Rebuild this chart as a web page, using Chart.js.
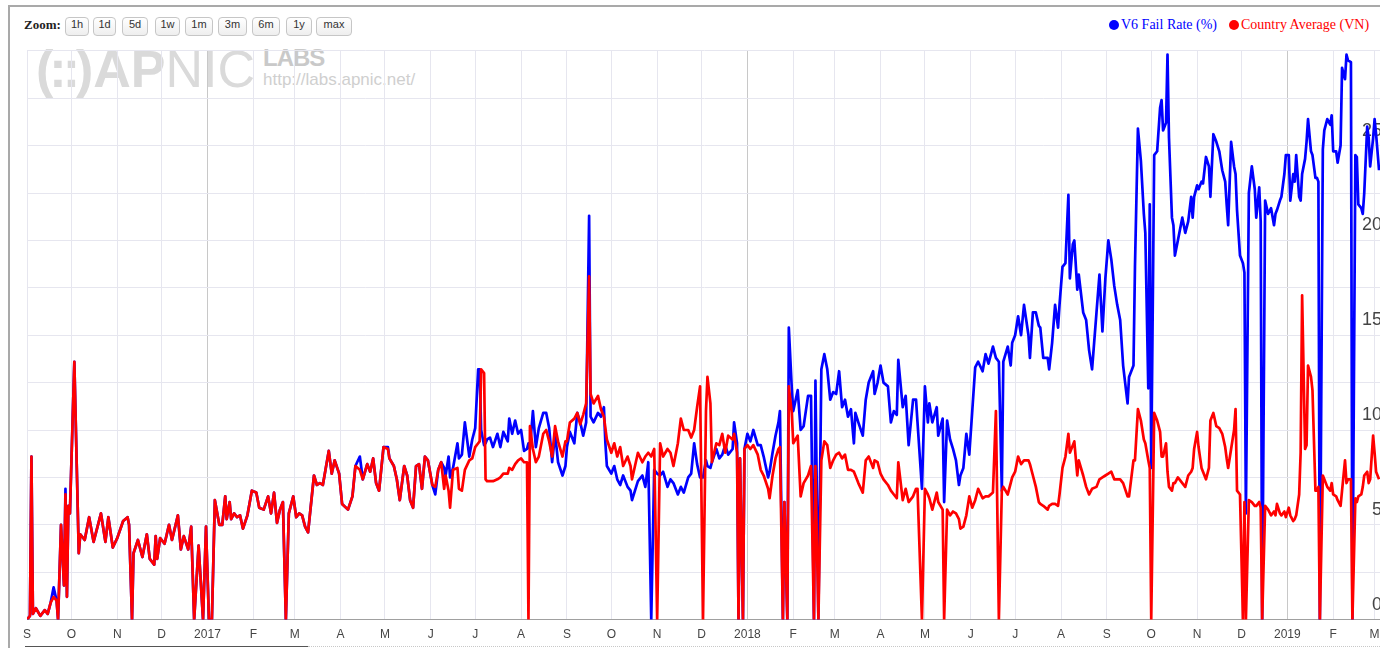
<!DOCTYPE html>
<html>
<head>
<meta charset="utf-8">
<script src="https://cdn.jsdelivr.net/npm/chart.js@4.4.1/dist/chart.umd.min.js"></script>
<style>
  body { margin: 0; width: 1380px; height: 648px; overflow: hidden; position: relative; background: #fff; }
  #frame { position: absolute; left: 8px; top: 5px; width: 1400px; height: 700px;
           border-top: 2px solid #a9a9a9; border-left: 2px solid #a9a9a9; }
  .wm { position: absolute; white-space: nowrap; font-family: "Liberation Sans", Arial, sans-serif; }
  #chart { position: absolute; left: 0; top: 40px; }
  #zoomlbl { position: absolute; left: 24px; top: 17px; font: bold 13px "Liberation Serif", "Times New Roman", serif; color: #222; }
  .btn { position: absolute; top: 17px; height: 19px; line-height: 17px; text-align: center;
         border: 1px solid #c6c6c6; border-radius: 4px; background: linear-gradient(#ffffff, #eeeeee);
         font: 11px "Liberation Sans", Arial, sans-serif; color: #333; box-sizing: border-box; }
  .leg { position: absolute; top: 17px; font: 14px "Liberation Serif", "Times New Roman", serif; white-space: nowrap; }
  .dot { display: inline-block; width: 10px; height: 10px; border-radius: 50%; margin-right: 2px; vertical-align: -1px; }
  #sel { position: absolute; left: 25px; top: 646px; width: 283px; height: 1px; background: #555; }
  #selrest { position: absolute; left: 308px; top: 646px; width: 1080px; height: 0; border-top: 1px dotted #c8c8c8; }
</style>
</head>
<body>
<div id="frame"></div>

<div class="wm" style="left:36px; top:43px; font-size:52px; line-height:52px; color:#dadada;">
  <span style="font-weight:bold; letter-spacing:-4px;">(::)</span><span style="font-weight:bold; margin-left:4px;">AP</span><span>NIC</span>
</div>
<div class="wm" style="left:263px; top:46px; font-size:24px; line-height:24px; font-weight:bold; letter-spacing:-1px; color:#c9c9c9;">LABS</div>
<div class="wm" style="left:263px; top:71px; font-size:17px; line-height:17px; color:#cfcfcf;">http://labs.apnic.net/</div>

<canvas id="chart" width="1400" height="618"></canvas>

<div id="zoomlbl">Zoom:</div>
<div class="btn" style="left:65px; width:24px;">1h</div>
<div class="btn" style="left:93px; width:23px;">1d</div>
<div class="btn" style="left:122px; width:26px;">5d</div>
<div class="btn" style="left:155px; width:25px;">1w</div>
<div class="btn" style="left:185px; width:28px;">1m</div>
<div class="btn" style="left:218px; width:29px;">3m</div>
<div class="btn" style="left:252px; width:28px;">6m</div>
<div class="btn" style="left:286px; width:26px;">1y</div>
<div class="btn" style="left:316px; width:36px;">max</div>

<div class="leg" style="left:1109px; color:#0000ff;"><span class="dot" style="background:#0000ff"></span>V6 Fail Rate (%)</div>
<div class="leg" style="left:1229px; color:#ff0000;"><span class="dot" style="background:#ff0000"></span>Country Average (VN)</div>

<div id="sel"></div>
<div id="selrest"></div>

<script>
// days since 1 Sep 2016
const days = [
  0,2,3,4,6,9,12,14,16,18,
  20,21,23,25,26,27,28,29,32,35,
  36,39,42,45,48,50,53,55,58,61,
  65,68,69,71,72,75,78,81,83,86,
  87,88,90,93,96,98,102,104,106,109,
  111,113,116,119,121,123,125,127,130,132,
  134,135,137,138,140,142,144,146,149,152,
  155,157,160,163,165,167,169,171,173,175,
  177,180,182,184,186,188,190,194,196,198,
  200,204,206,208,211,213,217,220,222,225,
  227,230,232,234,236,238,241,244,245,248,
  250,252,255,257,259,261,263,265,267,269,
  271,274,276,278,280,282,283,285,286,288,
  291,292,294,296,299,301,303,305,306,307,
  309,310,311,313,315,318,320,322,325,326,
  328,330,332,334,336,338,339,340,342,344,
  346,349,351,353,355,357,359,362,364,365,
  367,370,372,374,376,378,380,381,383,386,
  388,390,391,392,395,397,399,401,403,406,
  408,409,411,413,416,418,420,422,424,426,
  428,430,433,435,437,440,442,444,447,449,
  451,453,455,457,459,460,462,463,466,468,
  470,472,474,477,478,480,481,482,484,485,
  487,489,491,494,496,498,501,502,504,506,
  508,509,511,512,514,515,517,518,521,523,
  525,528,530,532,533,535,537,539,541,543,
  545,547,549,551,553,555,557,559,560,562,
  565,567,569,572,573,575,577,579,582,584,
  586,588,589,592,594,596,599,601,602,605,
  607,609,610,612,615,616,619,620,622,624,
  626,628,630,631,633,635,637,639,641,643,
  646,648,650,653,655,657,659,660,663,665,
  666,668,670,672,674,677,678,680,682,684,
  685,687,690,691,693,695,697,698,700,702,
  704,705,707,708,710,711,714,716,718,720,
  723,725,727,729,731,733,735,737,739,741,
  744,745,748,749,751,753,755,756,758,759,
  760,762,764,766,767,768,770,771,772,774,
  775,776,778,781,783,785,787,788,789,791,
  792,794,795,797,799,800,802,804,806,808,
  810,811,812,814,816,817,818,820,822,823,
  824,826,828,830,831,833,834,835,837,839,
  841,843,844,845,847,848,850,851,853,854,
  856,857,858,860,861,862,864,865,866,868,
  869,871,872,873,874,876,877,879,881,882,
  883,885,886,888,889,891,892,893,895,896,
  898,899,900,902,903,904,906,907,908,910,
  911,912,914
];

const v6Fail = [
  0,0.2,8.6,0.3,0.6,0.2,0.5,0.3,0.9,1.7,
  1.0,0,5.0,1.8,6.9,1.2,6.0,5.6,13.6,3.5,
  4.5,4.2,5.4,4.1,5.0,5.6,4.1,5.4,3.8,4.3,
  5.2,5.4,5.0,0,3.5,4.2,3.3,4.5,3.2,2.9,
  4.4,3.2,4.3,4.0,5.0,4.2,5.5,3.7,4.4,3.7,
  4.9,0,3.9,0,4.9,0,0,6.3,5.0,5.0,
  6.5,5.3,6.2,5.3,5.6,5.4,5.5,4.8,5.5,6.8,
  6.7,5.9,5.8,6.5,5.6,6.7,5.1,5.8,6.2,0,
  5.6,6.5,5.4,5.6,5.5,4.9,4.6,7.6,7.1,7.2,
  7.1,8.9,7.7,8.4,7.7,6.1,5.8,6.5,8.1,8.6,
  7.4,8.2,7.8,8.5,7.2,6.8,9.1,9.1,8.5,8.1,
  7.4,6.3,8.1,7.6,6.3,5.9,8.1,8.2,6.9,8.6,
  8.4,7.1,6.6,7.9,8.3,8.0,7.6,8.6,7.5,8.0,
  9.3,8.5,8.7,10.4,8.6,9.5,10.1,13.2,13.2,10.0,
  9.2,9.3,9.5,9.6,9.1,9.8,9.1,9.9,9.4,10.6,
  9.8,10.5,9.8,10.0,8.9,9.0,9.3,9.0,11.0,9.1,
  10.1,10.9,10.9,10.1,8.3,9.8,8.3,7.6,8.1,9.1,
  9.9,9.3,10.9,10.4,9.7,10.4,21.3,10.7,10.4,10.9,
  10.7,11.2,9.3,8.1,7.7,8.1,7.4,7.1,7.6,7.0,
  6.8,6.3,6.8,7.3,7.6,7.0,8.3,0,7.9,7.7,
  7.6,7.8,7.0,7.4,7.2,6.6,7.0,6.7,7.5,7.7,
  9.3,8.2,7.5,7.5,8.4,8.1,8.0,8.3,9.0,8.5,
  8.7,9.2,8.7,9.0,10.4,9.3,0,8.5,0,9.0,
  9.8,9.4,10.0,9.2,9.2,8.6,7.5,7.8,8.8,9.7,
  10.4,11.0,0,6.2,0,15.4,12.2,11.0,12.1,10.0,
  10.2,11.8,11.8,0,12.6,0,13.2,14.0,13.2,11.6,
  12.0,11.9,13.1,11.2,11.6,10.7,11.1,9.3,10.9,10.4,
  9.7,11.6,12.5,13.1,11.9,12.5,13.4,12.5,12.3,10.4,
  11.0,10.8,13.7,11.2,11.8,9.2,11.6,11.6,10.4,6.9,
  12.3,10.4,11.4,10.4,11.2,9.7,10.6,6.2,10.5,9.5,
  9.0,8.4,7.1,7.6,8.0,9.8,8.7,11.0,13.3,13.6,
  13.1,14.0,13.5,14.4,13.8,13.6,6.8,13.6,14.4,13.4,
  14.6,15.0,16.0,15.0,16.6,15.0,13.8,16.2,16.2,15.5,
  15.4,13.8,13.8,13.2,14.6,16.6,15.4,16.6,18.6,18.8,
  22.4,18.0,19.8,20.0,17.4,18.2,16.2,15.8,14.2,13.2,
  16.2,18.2,15.2,18.0,20.0,19.0,17.6,16.6,15.8,13.4,
  11.4,12.8,13.4,18.6,25.9,24.2,21.4,20.4,12.2,21.9,
  8.0,24.5,24.7,27.0,27.4,25.8,26.2,29.8,25.4,21.2,
  20.8,19.2,20.0,21.2,20.4,21.0,22.3,21.2,22.3,22.9,
  22.7,23.1,23.0,24.4,23.9,22.3,25.6,25.2,24.7,23.7,
  23.1,21.9,20.8,25.2,23.9,23.5,21.6,19.2,18.8,18.3,
  5.6,22.5,23.9,22.7,21.2,22.8,21.0,0,22.1,21.4,
  21.7,20.8,21.4,21.6,22.1,22.3,23.5,24.5,24.5,22.1,
  23.5,23.1,24.5,22.3,22.1,23.5,24.3,25.2,26.4,24.7,
  24.5,23.3,23.3,23.1,0,24.8,25.8,26.4,26.1,26.6,
  24.7,24.7,24.1,25.0,29.1,28.5,29.8,29.5,29.4,0,
  24.5,24.4,21.9,21.7,21.4,22.5,26.0,25.4,23.9,25.4,
  26.4,25.6,23.7
];

const countryAvg = [
  0,0.2,8.6,0.3,0.6,0.2,0.5,0.3,0.9,1.2,
  1.0,0,5.0,1.8,6.6,1.2,6.0,5.6,13.6,3.5,
  4.5,4.2,5.4,4.1,5.0,5.6,4.1,5.4,3.8,4.3,
  5.2,5.4,5.0,0,3.5,4.2,3.3,4.5,3.2,2.9,
  4.4,3.2,4.3,4.0,5.0,4.2,5.5,3.7,4.4,3.7,
  4.9,0,3.9,0,4.9,0,0,6.3,5.0,5.0,
  6.5,5.3,6.2,5.3,5.6,5.4,5.5,4.8,5.5,6.8,
  6.7,5.9,5.8,6.5,5.6,6.7,5.1,5.8,6.2,0,
  5.6,6.5,5.4,5.6,5.5,4.9,4.6,7.6,7.1,7.2,
  7.1,8.9,7.7,8.4,7.7,6.1,5.8,6.5,8.1,7.9,
  7.4,8.2,7.8,8.5,7.2,6.8,9.1,9.0,8.5,8.1,
  7.4,6.3,8.1,7.6,6.3,5.9,8.1,8.2,6.9,8.6,
  8.4,7.1,7.0,7.9,8.3,6.9,7.6,6.8,5.9,7.9,
  8.0,6.9,6.8,7.9,8.4,8.5,9.1,9.3,9.4,13.2,
  13.0,7.4,7.3,7.3,7.3,7.4,7.5,7.7,7.7,8.0,
  7.9,8.2,8.4,8.5,8.3,8.3,0,10.2,9.0,8.3,
  8.6,9.8,10.0,9.4,8.6,10.2,9.4,8.6,9.4,9.4,
  10.4,10.6,10.9,10.3,10.8,11.4,18.1,11.9,11.4,11.8,
  11.1,10.7,10.1,9.5,8.8,9.3,8.6,9.1,8.1,8.6,
  8.1,7.4,8.1,8.8,8.3,8.6,8.8,8.6,9.0,0,
  9.3,8.6,9.0,8.8,8.1,9.3,10.6,10.0,10.0,9.6,
  10.0,11.2,12.3,0,11.0,12.8,11.4,8.3,9.3,9.2,
  9.8,8.8,9.7,9.5,9.8,8.8,0,8.5,0,9.0,
  9.2,9.0,9.2,8.7,7.9,7.6,6.9,6.4,7.6,8.5,
  9.0,9.1,0,6.2,0,12.3,10.9,9.3,9.7,6.5,
  7.2,7.6,8.1,0,8.1,0,8.4,9.4,9.2,8.0,
  8.4,8.7,8.8,8.5,8.7,7.9,7.9,7.8,7.6,7.2,
  6.7,8.4,8.6,8.0,8.4,8.3,7.7,7.4,7.1,6.8,
  6.6,6.4,8.3,6.3,6.9,6.2,6.5,6.9,6.9,0,
  6.9,6.6,6.4,5.8,6.7,6.2,5.8,0,5.8,5.5,
  5.7,5.6,5.3,4.8,4.9,5.5,6.5,5.9,6.3,6.9,
  6.4,6.5,6.5,6.7,11.0,0,6.8,7.0,6.6,7.2,
  7.5,7.8,8.6,8.2,8.4,8.4,8.2,7.6,7.0,6.2,
  6.1,6.0,5.8,6.0,6.1,6.1,6.0,6.6,8.0,8.6,
  9.8,8.8,9.2,9.4,7.6,8.4,7.6,7.0,6.6,6.9,
  7.0,7.4,7.5,7.6,7.7,7.8,7.4,7.4,7.4,7.2,
  6.5,6.5,8.4,8.4,11.1,10.5,9.5,9.3,8.4,8.0,
  0,10.9,10.5,9.9,8.6,8.6,9.3,7.8,7.0,6.8,
  7.2,7.2,7.5,7.2,7.0,7.6,7.8,8.0,9.0,9.9,
  9.1,8.0,7.8,7.4,8.0,10.5,10.9,10.2,10.1,9.8,
  9.1,8.5,8.0,9.0,10.0,11.1,6.8,6.6,0,6.2,
  0,6.3,6.2,6.0,6.0,6.2,5.9,0,6.0,5.8,
  5.5,5.7,5.5,6.1,5.6,5.5,5.7,5.4,5.9,5.5,
  5.2,5.3,5.5,6.6,8.8,17.1,9.0,9.2,13.4,12.8,
  12.1,6.8,6.8,7.0,0,7.6,7.4,7.0,6.8,7.2,
  6.6,6.5,6.3,6.0,6.8,8.4,7.2,7.4,7.4,0,
  6.4,6.2,6.5,6.6,7.0,7.6,7.8,7.2,7.4,9.7,
  8.8,7.8,7.4
];

const monthLetters = ['J','F','M','A','M','J','J','A','S','O','N','D'];
const origin = Date.UTC(2016, 8, 1);
const monthTicks = [];
for (let i = 0; i <= 30; i++) {
  const y = 2016 + Math.floor((8 + i) / 12), m = (8 + i) % 12;
  monthTicks.push({
    day: Math.round((Date.UTC(y, m, 1) - origin) / 86400000),
    label: m === 0 ? String(y) : monthLetters[m],
    year: m === 0
  });
}
const tickAt = v => monthTicks.find(t => t.day === v);

const toPoints = vals => days.map((d, i) => ({ x: d, y: vals[i] }));

new Chart(document.getElementById('chart'), {
  type: 'line',
  data: {
    datasets: [
      { label: 'Country Average (VN)', data: toPoints(countryAvg), borderColor: '#ff0000', order: 1 },
      { label: 'V6 Fail Rate (%)', data: toPoints(v6Fail), borderColor: '#0000ff', order: 2 }
    ]
  },
  options: {
    responsive: false,
    animation: false,
    layout: { autoPadding: false, padding: { left: 27, right: 18, top: 2, bottom: 8 } },
    plugins: { legend: { display: false }, tooltip: { enabled: false } },
    elements: {
      point: { radius: 0 },
      line: { borderWidth: 2.7, tension: 0, borderJoinStyle: 'round' }
    },
    scales: {
      x: {
        type: 'linear', min: 0, max: 916,
        afterBuildTicks: scale => { scale.ticks = monthTicks.map(t => ({ value: t.day })); },
        ticks: {
          autoSkip: false, maxRotation: 0, padding: 8, color: '#444',
          font: { family: '"Liberation Sans", Arial, sans-serif', size: 12 },
          callback: v => { const t = tickAt(v); return t ? t.label : ''; }
        },
        grid: {
          drawTicks: false,
          color: ctx => { const t = ctx.tick && tickAt(ctx.tick.value); return t && t.year ? '#c8c8c8' : '#e6e6ef'; }
        },
        border: { color: '#a0a0a0' }
      },
      y: {
        position: 'right', min: 0, max: 30,
        ticks: {
          stepSize: 2.5, mirror: true, padding: 0, labelOffset: -15, color: '#444',
          font: { family: '"Liberation Sans", Arial, sans-serif', size: 18 },
          callback: v => (v % 5 === 0 && v < 30) ? String(v) : ''
        },
        grid: { drawTicks: false, color: '#e6e6ef' },
        border: { display: false }
      }
    }
  }
});
</script>
</body>
</html>
